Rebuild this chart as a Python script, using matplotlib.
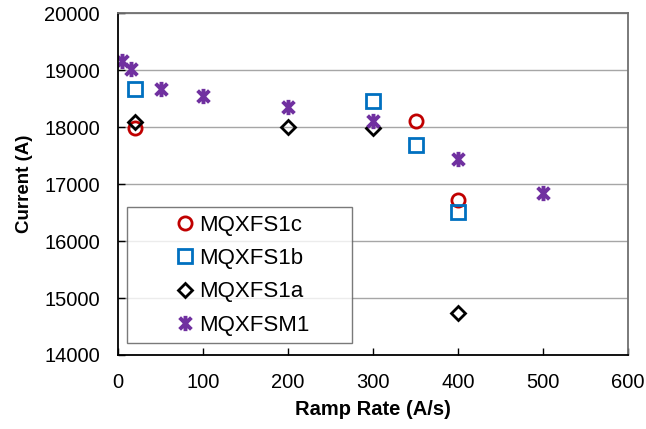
import numpy as np
import matplotlib
matplotlib.use('Agg')
from matplotlib import pyplot as plt
from matplotlib.path import Path

plt.rcParams['font.family'] = ['Liberation Sans', 'DejaVu Sans']

# ramp rate (A/s) and quench current (A) per magnet
rate_s1c = [20, 350, 400]
current_s1c = [17990, 18110, 16720]

rate_s1b = [20, 300, 350, 400]
current_s1b = [18665, 18460, 17685, 16505]

rate_s1a = [20, 200, 300, 400]
current_s1a = [18090, 17995, 17990, 14745]

rate_sm1 = [5, 15, 50, 100, 200, 300, 400, 500]
current_sm1 = [19160, 19020, 18660, 18545, 18355, 18105, 17435, 16840]

labels = ['MQXFS1c', 'MQXFS1b', 'MQXFS1a', 'MQXFSM1']

# excel style star marker: x with a vertical bar
star = Path([(-1, -1), (1, 1), (-1, 1), (1, -1), (0, -1.3), (0, 1.3)],
            [Path.MOVETO, Path.LINETO, Path.MOVETO, Path.LINETO, Path.MOVETO, Path.LINETO])

fig = plt.figure(figsize=(6.46, 4.29), dpi=100)
ax = fig.add_axes([0.1827, 0.1725, 0.7895, 0.797])

ax.plot(rate_s1c, current_s1c, 'o', ls='none', ms=9.5, mfc='none', mec='#C00000', mew=2.0, label=labels[0])
ax.plot(rate_s1b, current_s1b, 's', ls='none', ms=9.5, mfc='none', mec='#0070C0', mew=2.0, label=labels[1])
ax.plot(rate_s1a, current_s1a, 'D', ls='none', ms=7.5, mfc='none', mec='black', mew=2.0, label=labels[2])
ax.plot(rate_sm1, current_sm1, marker=star, ls='none', ms=11, mfc='none', mec='#7030A0', mew=2.8, label=labels[3])

ax.set_xlim(0, 600)
ax.set_ylim(14000, 20000)
ax.set_xticks(np.arange(0, 601, 100))
ax.set_yticks(np.arange(14000, 20001, 1000))
ax.grid(axis='y', color='#A6A6A6', lw=1.0)
ax.set_axisbelow(True)

ax.tick_params(direction='in', length=5, width=1, labelsize=14.5, pad=13, colors='black')
for side in ['left', 'bottom']:
    ax.spines[side].set_color('black')
    ax.spines[side].set_linewidth(1.3)
for side in ['top', 'right']:
    ax.spines[side].set_color('#707070')
    ax.spines[side].set_linewidth(1.3)

ax.set_xlabel('Ramp Rate (A/s)', fontsize=14.5, fontweight='bold', labelpad=6)
ax.set_ylabel('Current (A)', fontsize=13.5, fontweight='bold', labelpad=8)

leg = ax.legend(loc='lower left', bbox_to_anchor=(0.0176, 0.035, 0.441, 0.389), mode='expand',
                borderaxespad=0, fontsize=16, frameon=True, fancybox=False, edgecolor='#595959',
                handlelength=4.6, handletextpad=-1.67, labelspacing=0.56, borderpad=0.32)
leg.get_frame().set_linewidth(1.0)

fig.savefig('out.png', dpi=100)
